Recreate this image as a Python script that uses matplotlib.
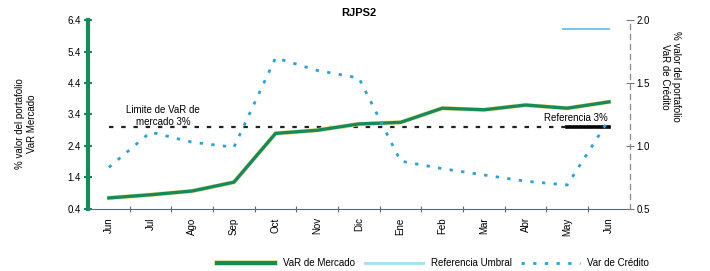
import matplotlib
matplotlib.use("Agg")
import matplotlib.pyplot as plt
import matplotlib.patheffects as pe
from matplotlib.lines import Line2D

plt.rcParams['font.family'] = ['Liberation Sans', 'DejaVu Sans']

months = ['Jun', 'Jul', 'Ago', 'Sep', 'Oct', 'Nov', 'Dic', 'Ene', 'Feb', 'Mar', 'Abr', 'May', 'Jun']
var_mercado = [0.75, 0.85, 0.97, 1.25, 2.8, 2.9, 3.1, 3.15, 3.6, 3.55, 3.7, 3.6, 3.8]
var_credito = [0.83, 1.11, 1.03, 0.99, 1.70, 1.60, 1.54, 0.88, 0.82, 0.77, 0.72, 0.69, 1.21]
referencia = 3.0

green = '#178a5c'
blue = '#2aa4d8'

fig = plt.figure(figsize=(7.1, 2.71), dpi=100)
ax = fig.add_axes([0.124, 0.229, 0.763, 0.697])
ax2 = ax.twinx()

x = list(range(len(months)))

# VaR de mercado (green with thin yellow edge)
ax.plot(x, var_mercado, color=green, lw=2.4, zorder=3,
        path_effects=[pe.Stroke(linewidth=3.2, foreground='#f0e48a'), pe.Normal()])

# Referencia 3%
ax.plot(x, [referencia] * len(x), color='#222222', lw=1.6, ls=(0, (2, 3.5)), zorder=2)
ax.plot([11.0, 12.0], [referencia, referencia], color='black', lw=2.6, zorder=2)

# VaR de credito on right axis
ax2.plot(x, var_credito, color=blue, lw=2.0, ls=(0, (1.2, 3.0)), zorder=2)
ax2.plot([10.9, 12.0], [1.93, 1.93], color='#6fc8ec', lw=1.4)

ax.set_xlim(-0.5, 12.5)
ax.set_ylim(0.4, 6.4)
ax2.set_ylim(0.5, 2.0)

ax.set_yticks([0.4, 1.4, 2.4, 3.4, 4.4, 5.4, 6.4])
ax2.set_yticks([0.5, 1.0, 1.5, 2.0])

# x ticks: marks at boundaries, labels at centers
ax.set_xticks([i + 0.5 for i in range(12)])
ax.set_xticklabels([])
ax.set_xticks(x, minor=True)
ax.set_xticklabels(months, minor=True, rotation=90, fontsize=7)
ax.tick_params(axis='x', which='major', length=4, color='#5a6a7a', direction='inout')
ax.tick_params(axis='x', which='minor', length=0, pad=6)

ax.tick_params(axis='y', which='major', length=6, width=1.5, color=green,
               direction='inout', labelsize=7, pad=2)
ax2.tick_params(axis='y', which='major', length=6, color='#777777',
                direction='inout', labelsize=7, pad=2)

ax.spines['top'].set_visible(False)
ax2.spines['top'].set_visible(False)
ax.spines['right'].set_visible(False)
ax2.spines['left'].set_visible(False)
ax.spines['left'].set_color(green)
ax.spines['left'].set_linewidth(3)
ax2.spines['bottom'].set_visible(False)
ax.spines['bottom'].set_color('#5a6a7a')
ax2.spines['right'].set_color('#888888')
ax2.spines['right'].set_linestyle((0, (4, 4)))
ax2.spines['right'].set_linewidth(0.9)

ax.set_ylabel('% valor del portafolio\nVaR Mercado', fontsize=7)
ax2.set_ylabel('% valor del portafolio\nVaR de Crédito', fontsize=7, rotation=270)
ax2.yaxis.set_label_coords(1.095, 0.7)
ax.yaxis.set_label_coords(-0.095, 0.45)

ax.set_title('RJPS2', fontsize=8, fontweight='bold', pad=3)

ax.text(1.3, 3.35, 'Limite de VaR de\nmercado 3%', fontsize=7, ha='center', va='center')
ax.text(11.2, 3.28, 'Referencia 3%', fontsize=7, ha='center', va='center')

handles = [
    Line2D([0], [0], color=green, lw=3,
           path_effects=[pe.Stroke(linewidth=4, foreground='#f0e48a'), pe.Normal()]),
    Line2D([0], [0], color='#9fe0f0', lw=2),
    Line2D([0], [0], color=blue, lw=2, ls=(0, (1.2, 3.0))),
]
fig.legend(handles, ['VaR de Mercado', 'Referencia Umbral', 'Var de Crédito'],
           loc='center', bbox_to_anchor=(0.61, 0.028), ncol=3, frameon=False,
           fontsize=7, handlelength=6, columnspacing=1.0, borderpad=0.1)

fig.savefig('out.png', dpi=100)
